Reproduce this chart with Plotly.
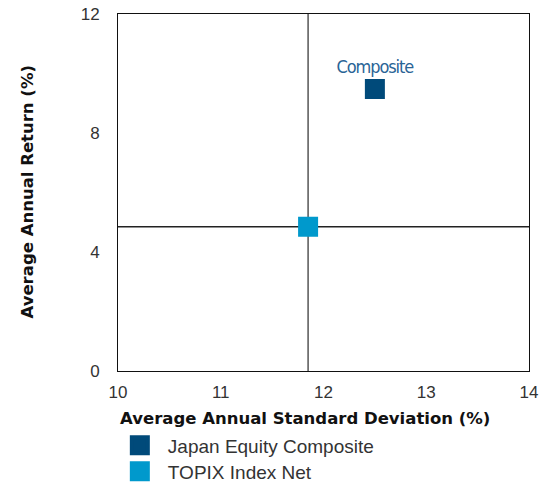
import plotly.graph_objects as go

series_names = ["Japan Equity Composite", "TOPIX Index Net"]
std_dev = [12.5, 11.85]
returns = [9.48, 4.85]
colors = ["#004a7a", "#0099cc"]
point_labels = ["Composite", ""]
x_ticks = [10, 11, 12, 13, 14]
y_ticks = [0, 4, 8, 12]
x_title = "Average Annual Standard Deviation (%)"
y_title = "Average Annual Return (%)"

legend_ids = ["legend", "legend2"]

fig = go.Figure()
for i in range(2):
    lbl = point_labels[i]
    fig.add_trace(go.Scatter(
        x=[std_dev[i]], y=[returns[i]],
        mode="markers+text" if lbl else "markers",
        text=["<span style='letter-spacing:-1.1px'>" + lbl + "</span>" if lbl else ""],
        textposition="top center",
        textfont=dict(family="DejaVu Sans Condensed, DejaVu Sans", size=18, color="#2a6496"),
        marker=dict(symbol="square", size=16, color=colors[i],
                    line=dict(width=4, color=colors[i])),
        name=series_names[i], cliponaxis=False, legend=legend_ids[i],
    ))

# crosshair through the benchmark
fig.add_shape(type="line", x0=std_dev[1], x1=std_dev[1], y0=0, y1=12,
              xref="x", yref="y", line=dict(color="#555555", width=1.5), layer="below")
fig.add_shape(type="line", x0=10, x1=14, y0=returns[1], y1=returns[1],
              xref="x", yref="y", line=dict(color="#222222", width=1.5), layer="below")

fig.add_annotation(text="<b>" + x_title + "</b>", xref="paper", yref="paper",
                   x=0, y=-0.1317, xanchor="left", yanchor="middle", showarrow=False,
                   font=dict(family="DejaVu Sans", size=16.5, color="#111111"))
fig.add_annotation(text="<b>" + y_title + "</b>", xref="paper", yref="paper",
                   x=-0.2214, y=0.5, xanchor="center", yanchor="middle", showarrow=False,
                   textangle=-90,
                   font=dict(family="DejaVu Sans", size=16.5, color="#111111"))

legend_common = dict(xref="paper", yref="container", xanchor="left", yanchor="top",
                     itemwidth=46, font=dict(size=19, color="#333333"),
                     itemsizing="trace", bgcolor="rgba(0,0,0,0)")
fig.update_layout(
    width=542, height=484,
    margin=dict(l=118, r=13, t=14, b=113),
    paper_bgcolor="white", plot_bgcolor="white",
    font=dict(family="Liberation Sans, Arial", size=17, color="#333333"),
    showlegend=True,
    legend=dict(x=-0.015, y=0.1188, **legend_common),
    legend2=dict(x=-0.015, y=0.0651, **legend_common),
)
fig.update_xaxes(range=[10, 14], tickvals=x_ticks, showgrid=False, zeroline=False,
                 showline=True, linecolor="#111111", linewidth=1, mirror=True,
                 ticks="", automargin=False, ticklabelstandoff=6,
                 tickfont=dict(size=17, color="#333333"))
fig.update_yaxes(range=[0, 12], tickvals=y_ticks, showgrid=False, zeroline=False,
                 showline=True, linecolor="#111111", linewidth=1, mirror=True,
                 ticks="", automargin=False, ticklabelstandoff=14,
                 tickfont=dict(size=17, color="#333333"))

fig.write_html("out.html", config={"displayModeBar": False},
               post_script="document.body.style.margin='0';")
